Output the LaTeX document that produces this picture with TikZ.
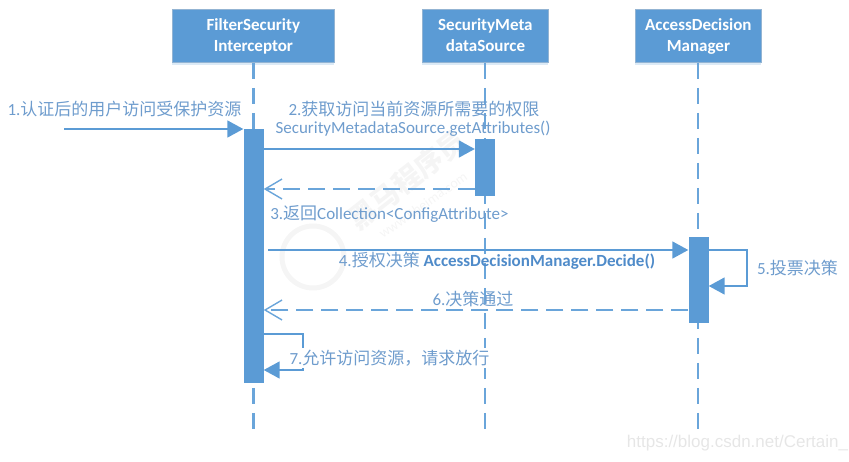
\documentclass[tikz,border=0pt]{standalone}
\usepackage{fontspec}
\setmainfont{Carlito}
\newfontfamily\cjk{Noto Sans CJK SC}
\newfontfamily\urlfont{Liberation Sans}
\usepackage{xcolor}
\usepackage{tikz}
\usetikzlibrary{
    arrows.meta,
    shadows
}
\definecolor{barblue}{HTML}{5B9BD5}
\definecolor{lineblue}{HTML}{6AA5DA}
\definecolor{textblue}{HTML}{6E9CCD}
\definecolor{deepblue}{HTML}{4F8BC9}
\definecolor{glowblue}{HTML}{DCEAF6}
\definecolor{urlgrey}{HTML}{E6E6E6}
\definecolor{markgrey}{HTML}{F5F5F5}
\tikzset{
    actor/.style={
        draw=barblue!75!gray!70, line width=0.8pt, fill=barblue, text=white,
        minimum height=53pt, inner sep=0pt, align=center, anchor=north west,
        text height=36pt, text depth=4pt,
        font=\fontsize{17}{21}\bfseries,
        general shadow={fill=glowblue, shadow xshift=0pt, shadow yshift=-3pt, xscale=0.85}
    },
    bar/.style={fill=barblue, draw=none, minimum width=20pt, inner sep=0pt},
    lifeline/.style={draw=lineblue, line width=2.4pt, dash pattern=on 16pt off 9pt},
    call/.style={draw=barblue, line width=1.7pt, -{Triangle[length=16pt,width=17pt,fill=barblue]}},
    reply/.style={draw=lineblue, line width=1.7pt, dash pattern=on 17pt off 8pt,
        -{Straight Barb[length=17pt,width=20pt,line width=1.4pt]}},
    lbl/.style={text=textblue, inner sep=0pt, font=\fontsize{17}{20}\selectfont}
}
\begin{document}
\begin{tikzpicture}[x=1pt,y=-1pt]
    \useasboundingbox (0,0) rectangle (849,461);

    % faint stamp behind everything
    \node[text=markgrey, inner sep=0pt, rotate=38, font=\cjk\bfseries\fontsize{28}{32}\selectfont] (stamp) at (407,180) {黑马程序员};
    \node[text=markgrey, inner sep=0pt, rotate=35, font=\fontsize{14}{16}\selectfont] (stampurl) at (423,205) {www.itheima.com};
    \node[draw=markgrey, line width=5pt, circle, minimum size=62pt, inner sep=0pt] (stamplogo) at (313,257) {};

    % heads
    \node[actor, minimum width=162pt] (filter) at (172,9) {FilterSecurity\\Interceptor};
    \node[actor, minimum width=126pt] (source) at (422,9) {SecurityMeta\\dataSource};
    \node[actor, minimum width=126pt] (manager) at (635,9) {AccessDecision\\Manager};

    % lifelines
    \coordinate (filterend) at (253.5,433);
    \coordinate (sourceend) at (485,433);
    \coordinate (managerend) at (698,433);
    \draw[lifeline] (filter.south -| filterend) -- (filterend);
    \draw[lifeline] (source.south -| sourceend) -- (sourceend);
    \draw[lifeline] (manager.south -| managerend) -- (managerend);

    % activations
    \node[bar, minimum height=254pt, anchor=north] (barfilter) at (253.5,129) {};
    \node[bar, minimum height=57pt, anchor=north] (barsource) at (485,139) {};
    \node[bar, minimum height=86pt, anchor=north] (barmanager) at (698.5,237) {};

    % messages
    \coordinate (user) at (64,129);
    \draw[call] (user) -- (barfilter.north west);
    \draw[call] ([yshift=-20pt]barfilter.north east) -- ([yshift=-10pt]barsource.north west);
    \draw[reply] ([yshift=-50pt]barsource.north west) -- ([yshift=-60pt]barfilter.north east);
    \coordinate (askstart) at (268,250);
    \draw[call] (askstart) -- (askstart -| barmanager.west);
    \draw[reply] ([yshift=-73pt]barmanager.north west) -- ([yshift=-181pt]barfilter.north east);

    % self calls
    \draw[call] ([yshift=-13pt]barmanager.north east) -- ++(38,0) -- ++(0,36) -- ([yshift=-49pt]barmanager.north east);
    \draw[call] ([yshift=-205pt]barfilter.north east) -- ++(39,0) -- ++(0,36) -- ([yshift=-241pt]barfilter.north east);

    % labels
    \node[lbl] (one) at (124.5,109) {1.{\cjk 认证后的用户访问受保护资源}};
    \node[lbl] (two) at (414,109) {2.{\cjk 获取访问当前资源所需要的权限}};
    \node[lbl] (twob) at (413,129) {SecurityMetadataSource.getAttributes()};
    \node[lbl] (three) at (389.5,214) {3.{\cjk 返回}Collection<ConfigAttribute>};
    \node[lbl] (four) at (497,261) {4.{\cjk 授权决策} \textcolor{deepblue}{\bfseries AccessDecisionManager.Decide()}};
    \node[lbl] (five) at (797.5,268) {5.{\cjk 投票决策}};
    \node[lbl] (six) at (473,299) {6.{\cjk 决策通过}};
    \node[lbl, fill=white, minimum height=20pt] (seven) at (389.5,358) {7.{\cjk 允许访问资源，请求放行}};

    \node[text=urlgrey, inner sep=0pt, font=\urlfont\fontsize{17}{20}\selectfont] (url) at (737.5,443) {https://blog.csdn.net/Certain\_};
\end{tikzpicture}
\end{document}
